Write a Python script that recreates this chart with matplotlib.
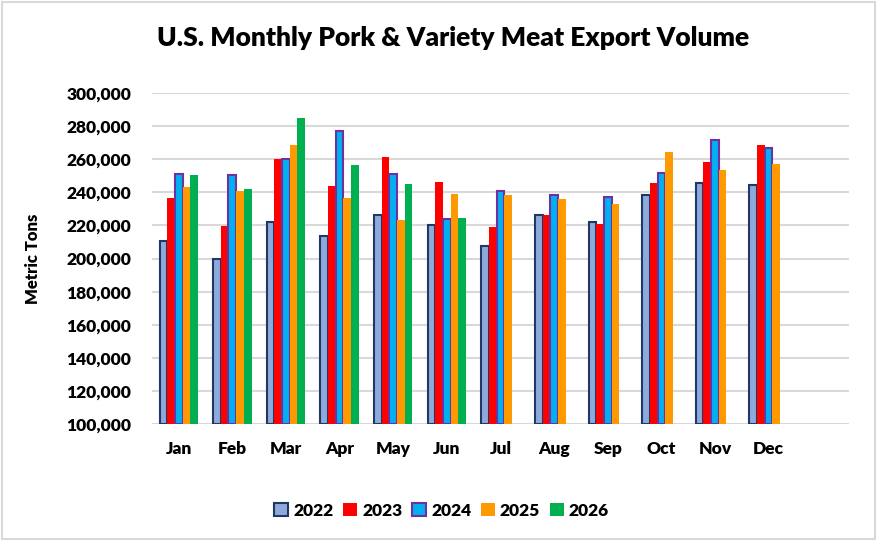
import matplotlib.pyplot as plt
import numpy as np
from matplotlib.patches import Rectangle
from matplotlib.ticker import FuncFormatter

months = ["Jan", "Feb", "Mar", "Apr", "May", "Jun",
          "Jul", "Aug", "Sep", "Oct", "Nov", "Dec"]
years = ["2022", "2023", "2024", "2025", "2026"]

v2022 = [210500, 200000, 222300, 213800, 226500, 220400,
         207700, 226500, 222300, 238600, 245800, 244600]
v2023 = [236600, 219600, 259900, 243600, 261100, 246000,
         219000, 226100, 220600, 245400, 258100, 268400]
v2024 = [251000, 250600, 260300, 277200, 251000, 224100,
         241000, 238600, 237400, 251900, 271800, 267000]
v2025 = [243200, 240800, 268600, 236600, 223300, 239000,
         238200, 236000, 232900, 264400, 253500, 257100]
v2026 = [250300, 242000, 284900, 256500, 244800, 224500]

series = [v2022, v2023, v2024, v2025, v2026]
faces = ["#8EA9DB", "#FF0000", "#00B0F0", "#FF9900", "#00B050"]
edges = ["#1F3864", "#FF0000", "#7030A0", "#FF9900", "#00B050"]
edge_w = [1.5, 0, 1.5, 0, 0]

plt.rcParams['font.family'] = ['Lato', 'DejaVu Sans']
W = 'heavy'

fig = plt.figure(figsize=(8.78, 5.41), dpi=100)
ax = fig.add_axes([0.173, 0.216, 0.794, 0.612])

bw = 0.143
for i, (vals, fc, ec, lw) in enumerate(zip(series, faces, edges, edge_w)):
    x = np.arange(len(vals)) + (i - 2) * bw
    ax.bar(x, np.array(vals) - 100000, bottom=100000, width=bw,
           color=fc, edgecolor=ec, linewidth=lw, label=years[i], zorder=3)

ax.set_ylim(100000, 300000)
ax.set_xlim(-0.5, 12.5)
ax.set_yticks(range(100000, 300001, 20000))
ax.yaxis.set_major_formatter(FuncFormatter(lambda v, p: f"{int(v):,}"))
ax.set_xticks(range(12))
ax.set_xticklabels(months)
ax.tick_params(axis='both', length=0, labelsize=12.5)
ax.tick_params(axis='x', pad=12)
ax.tick_params(axis='y', pad=15)
for lab in ax.get_xticklabels() + ax.get_yticklabels():
    lab.set_fontweight(W)
ax.grid(axis='y', color='#D9D9D9', linewidth=1.5, zorder=0)
for s in ax.spines.values():
    s.set_visible(False)

ax.set_ylabel("Metric Tons", fontsize=12, fontweight=W, labelpad=18)
fig.text(0.516, 0.93, "U.S. Monthly Pork & Variety Meat Export Volume",
         ha='center', va='center', fontsize=19, fontweight=W)

leg = ax.legend(loc='center', bbox_to_anchor=(0.503, 0.056),
                bbox_transform=fig.transFigure, ncol=5, frameon=False,
                fontsize=12.5, handlelength=0.8, handleheight=0.8,
                handletextpad=0.3, columnspacing=0.55)
for t in leg.get_texts():
    t.set_fontweight(W)

fig.patches.append(Rectangle((0.002, 0.003), 0.995, 0.993, transform=fig.transFigure,
                             fill=False, edgecolor='#D9D9D9', linewidth=1.5))

fig.savefig("out.png", dpi=100)
